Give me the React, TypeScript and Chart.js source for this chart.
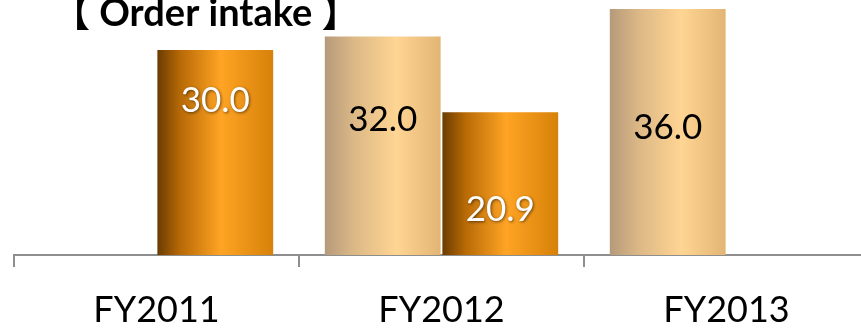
import React, { useEffect, useRef } from "react";
import { Chart, registerables } from "chart.js";

Chart.register(...registerables);

const categories = ["FY2011", "FY2012", "FY2013"];
const planValues: (number | null)[] = [null, 32.0, 36.0];
const actualValues: (number | null)[] = [30.0, 20.9, null];
const titleText = "【 Order intake 】";

// where each value label sits, as a fraction of its bar's height from the base
const planLabelPos = [0.5, 0.62, 0.518];
const actualLabelPos = [0.754, 0.319, 0.5];

const CP = 0.825;
const BP = 0.985;

function gradientFor(ctx: any, stops: [number, string][], fallback: string) {
  if (ctx.type !== "data") return fallback;
  const chart = ctx.chart;
  const xs = chart.scales?.x;
  if (!xs || !chart.chartArea) return fallback;
  const c0 = xs.getPixelForValue(0);
  const c1 = xs.getPixelForValue(1);
  const cw = c1 - c0;
  const center = xs.getPixelForValue(ctx.dataIndex);
  const slot = (cw * CP) / 2;
  const barW = slot * BP;
  const left = center - (cw * CP) / 2 + ctx.datasetIndex * slot + (slot - barW) / 2;
  const g = chart.ctx.createLinearGradient(left, 0, left + barW, 0);
  stops.forEach(([o, c]) => g.addColorStop(o, c));
  return g;
}

const beigeStops: [number, string][] = [
  [0, "#b59a7b"],
  [0.25, "#dcb886"],
  [0.62, "#ffd593"],
  [1, "#e2b574"],
];
const orangeStops: [number, string][] = [
  [0, "#6a3c02"],
  [0.2, "#b86a06"],
  [0.55, "#ffa424"],
  [1, "#d68109"],
];

const labelPlugin = {
  id: "valueLabels",
  afterDatasetsDraw(chart: any) {
    const ctx = chart.ctx;
    chart.data.datasets.forEach((ds: any, di: number) => {
      const meta = chart.getDatasetMeta(di);
      const pos = di === 0 ? planLabelPos : actualLabelPos;
      meta.data.forEach((el: any, i: number) => {
        const v = ds.data[i];
        if (v === null || v === undefined) return;
        const y = el.base - (el.base - el.y) * pos[i];
        ctx.save();
        ctx.font = "35px Lato";
        ctx.textAlign = "center";
        ctx.textBaseline = "middle";
        if (di === 1) {
          ctx.shadowColor = "rgba(0,0,0,0.55)";
          ctx.shadowBlur = 3;
          ctx.shadowOffsetX = 1;
          ctx.shadowOffsetY = 1;
          ctx.fillStyle = "#ffffff";
        } else {
          ctx.fillStyle = "#000000";
        }
        ctx.fillText(v.toFixed(1), el.x, y);
        ctx.restore();
      });
    });
  },
  afterDraw(chart: any) {
    const ctx = chart.ctx;
    ctx.save();
    ctx.font = "bold 38px Lato, 'Noto Sans CJK JP'";
    ctx.fillStyle = "#000000";
    ctx.textAlign = "left";
    ctx.textBaseline = "alphabetic";
    ctx.fillText(titleText, 52, 26);
    ctx.restore();
  },
};

export default function App() {
  const ref = useRef<HTMLCanvasElement | null>(null);
  useEffect(() => {
    if (!ref.current) return;
    const chart = new Chart(ref.current, {
      type: "bar",
      data: {
        labels: categories,
        datasets: [
          {
            label: "Plan",
            data: planValues,
            backgroundColor: (c: any) => gradientFor(c, beigeStops, "#f2c98a"),
            categoryPercentage: CP,
            barPercentage: BP,
          },
          {
            label: "Actual",
            data: actualValues,
            backgroundColor: (c: any) => gradientFor(c, orangeStops, "#f29418"),
            categoryPercentage: CP,
            barPercentage: BP,
          },
        ],
      },
      options: {
        responsive: false,
        animation: false,
        devicePixelRatio: 1,
        layout: { padding: { left: 14, right: 0, top: 0, bottom: 0 } },
        plugins: {
          legend: { display: false },
          title: { display: false },
          tooltip: { enabled: false },
        },
        scales: {
          x: {
            offset: true,
            grid: {
              display: true,
              offset: true,
              drawOnChartArea: false,
              drawTicks: true,
              tickLength: 12,
              color: "#8e8e8e",
              lineWidth: 2,
            },
            border: { display: true, color: "#8e8e8e", width: 2 },
            ticks: {
              font: { family: "Lato", size: 36 },
              color: "#000000",
              padding: 22,
              maxRotation: 0,
            },
            afterFit: (s: any) => {
              s.height = 73;
            },
          },
          y: {
            display: false,
            min: 0,
            max: 37.33,
          },
        },
      },
      plugins: [labelPlugin],
    });
    return () => chart.destroy();
  }, []);
  return (
    <div
      style={{
        position: "fixed",
        left: 0,
        top: 0,
        width: 861,
        height: 328,
        overflow: "hidden",
        background: "#ffffff",
      }}
    >
      <canvas ref={ref} width={869} height={328} style={{ display: "block" }} />
    </div>
  );
}
